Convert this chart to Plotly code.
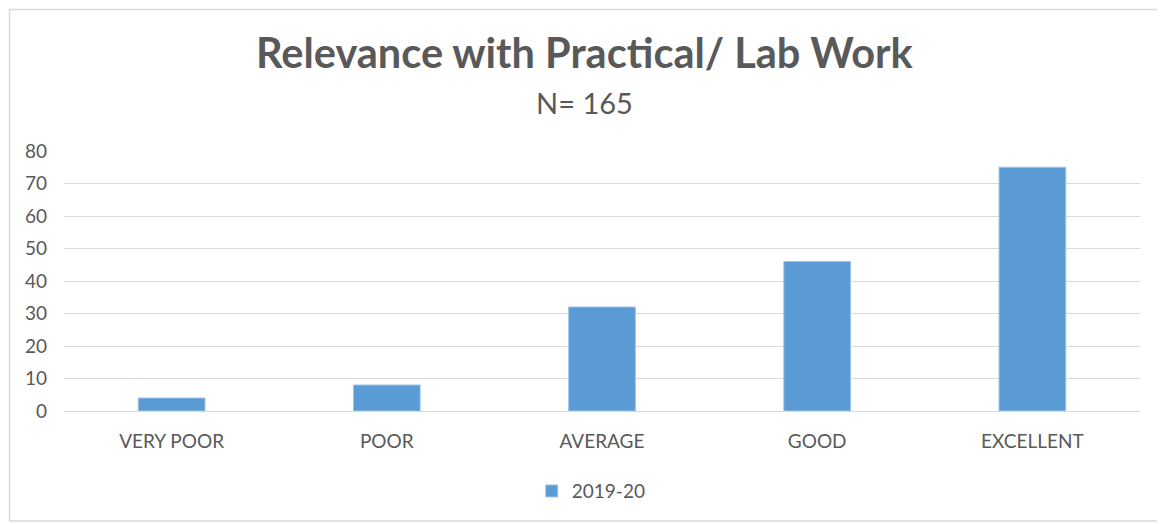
import plotly.graph_objects as go

categories = ["VERY POOR", "POOR", "AVERAGE", "GOOD", "EXCELLENT"]
counts_2019_20 = [4, 8, 32, 46, 75]
series_name = "2019-20"
y_ticks = [0, 10, 20, 30, 40, 50, 60, 70, 80]

font_name = "Lato"
grey_text = "#595959"

fig = go.Figure()
fig.add_trace(go.Bar(x=categories, y=counts_2019_20, name=series_name,
                     marker=dict(color="#5b9bd5", line=dict(color="#9dc3e6", width=1)),
                     width=0.31))

# la page a une marge de 8px, on la compense dans les marges
fig.update_layout(
    width=1165, height=524,
    margin=dict(l=56, r=33, t=143, b=121),
    paper_bgcolor="white", plot_bgcolor="white",
    font=dict(family=font_name, color=grey_text, size=19),
    showlegend=True,
    legend=dict(orientation="h", x=0.49, xanchor="center", y=-0.308, yanchor="middle",
                font=dict(size=19, color=grey_text)),
    bargap=0.69,
)
fig.update_yaxes(range=[0, 80], tickvals=y_ticks, showgrid=True, gridcolor="#d9d9d9",
                 gridwidth=1.3, zeroline=False, showline=False, ticks="",
                 ticklabelstandoff=16, tickfont=dict(size=19, color=grey_text))
fig.update_xaxes(showline=True, linecolor="#d9d9d9", linewidth=1.3, ticks="",
                 tickfont=dict(size=19, color=grey_text), ticklabelstandoff=13)

# titre et sous-titre
fig.add_annotation(text="<b>Relevance with Practical/ Lab Work</b>", xref="paper", yref="paper",
                   x=0.484, y=1.381, xanchor="center", yanchor="middle", showarrow=False,
                   font=dict(size=41.5, color=grey_text, family=font_name))
fig.add_annotation(text="N= 165", xref="paper", yref="paper",
                   x=0.484, y=1.185, xanchor="center", yanchor="middle", showarrow=False,
                   font=dict(size=29, color=grey_text, family=font_name))

# cadre du graphique (gardé à l'intérieur de la figure)
fig.add_shape(type="rect", xref="paper", yref="paper", x0=-0.0506, x1=1.0195, y0=-0.423, y1=1.544,
              line=dict(color="#d9d9d9", width=1.5), fillcolor="rgba(0,0,0,0)", layer="below")

fig.write_html("out.html")
